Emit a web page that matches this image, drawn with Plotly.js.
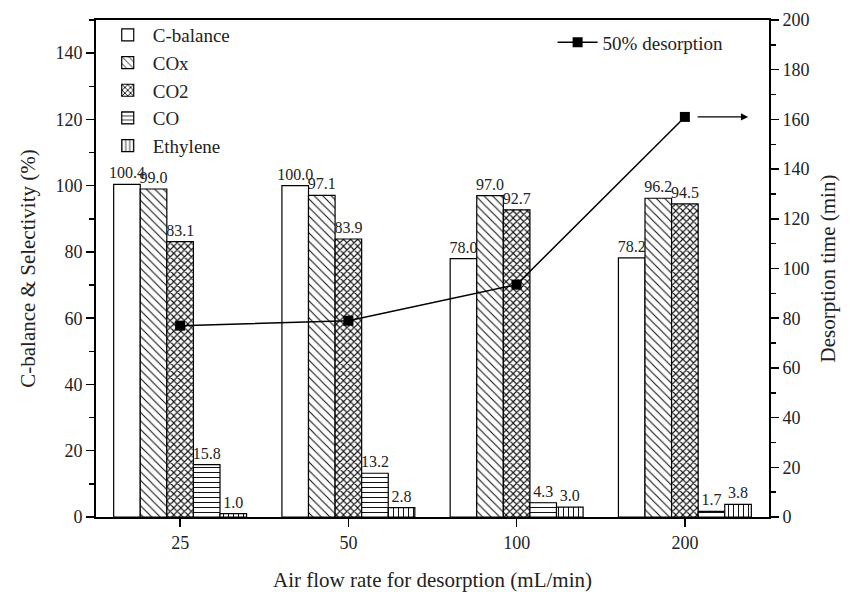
<!DOCTYPE html>
<html>
<head>
<meta charset="utf-8">
<script src="https://cdn.plot.ly/plotly-3.0.1.min.js"></script>
<style>
  html, body { margin: 0; padding: 0; background: #fff; }
  #chart { width: 850px; height: 592px; }
</style>
</head>
<body>
<div id="chart"></div>
<script>
// air flow rates (mL/min)
const flowRates = ['25', '50', '100', '200'];

// left axis, %
const cBalance = [100.4, 100.0, 78.0, 78.2];
const cox = [99.0, 97.1, 97.0, 96.2];
const co2 = [83.1, 83.9, 92.7, 94.5];
const co = [15.8, 13.2, 4.3, 1.7];
const ethylene = [1.0, 2.8, 3.0, 3.8];

// right axis, min
const desorption50 = [77, 79, 93.5, 161];

const serif = '"Liberation Serif", "Times New Roman", Times, serif';

function barTrace(name, values, shape, size, solidity) {
    return {
        type: 'bar',
        name: name,
        x: flowRates,
        y: values,
        marker: {
            color: '#fff',
            line: { color: '#000', width: 1.2 },
            pattern: shape ? { shape: shape, fgcolor: '#111', bgcolor: '#fff', size: size, solidity: solidity } : undefined
        },
        texttemplate: '%{y:.1f}',
        textposition: 'outside',
        constraintext: 'none',
        cliponaxis: false,
        textfont: { family: serif, size: 16, color: '#222' },
        legend: 'legend'
    };
}

const data = [
    barTrace('C-balance', cBalance, '', 6, 0),
    barTrace('COx', cox, '\\', 6, 0.18),
    barTrace('CO2', co2, 'x', 5, 0.4),
    barTrace('CO', co, '-', 5, 0.2),
    barTrace('Ethylene', ethylene, '|', 5, 0.2),
    {
        type: 'scatter',
        mode: 'lines+markers',
        name: '50% desorption',
        x: flowRates,
        y: desorption50,
        yaxis: 'y2',
        line: { color: '#000', width: 1.5 },
        marker: { symbol: 'square', size: 10, color: '#000' },
        cliponaxis: false,
        legend: 'legend2'
    }
];

const layout = {
    width: 850,
    height: 592,
    margin: { l: 96, r: 81, t: 20, b: 75, pad: 0 },
    paper_bgcolor: '#fff',
    plot_bgcolor: '#fff',
    font: { family: serif, size: 18, color: '#222' },
    barmode: 'group',
    bargap: 0.21,
    bargroupgap: 0,
    xaxis: {
        type: 'category',
        range: [-0.5, 3.5],
        showline: true, linecolor: '#000', linewidth: 2, mirror: true,
        ticks: 'outside', ticklen: 8, tickwidth: 1.5, tickcolor: '#000',
        showgrid: false, zeroline: false,
        tickfont: { family: serif, size: 18, color: '#222' },
        title: { text: 'Air flow rate for desorption (mL/min)', font: { family: serif, size: 21, color: '#222' }, standoff: 22 }
    },
    yaxis: {
        range: [0, 150],
        dtick: 20,
        showline: true, linecolor: '#000', linewidth: 2,
        ticks: 'outside', ticklen: 8, tickwidth: 1.5, tickcolor: '#000',
        minor: { dtick: 10, ticks: 'outside', ticklen: 5, tickwidth: 1.5, tickcolor: '#000' },
        showgrid: false, zeroline: false,
        tickfont: { family: serif, size: 18, color: '#222' },
        title: { text: 'C-balance &amp; Selectivity (%)', font: { family: serif, size: 21, color: '#222' }, standoff: 14 }
    },
    yaxis2: {
        overlaying: 'y',
        side: 'right',
        range: [0, 200],
        dtick: 20,
        showline: true, linecolor: '#000', linewidth: 2,
        ticks: 'outside', ticklen: 8, tickwidth: 1.5, tickcolor: '#000',
        minor: { dtick: 10, ticks: 'outside', ticklen: 5, tickwidth: 1.5, tickcolor: '#000' },
        showgrid: false, zeroline: false,
        tickfont: { family: serif, size: 18, color: '#222' },
        title: { text: 'Desorption time (min)', font: { family: serif, size: 21, color: '#222' }, standoff: 12 }
    },
    showlegend: true,
    legend: {
        x: 0.01, y: 1.008, xanchor: 'left', yanchor: 'top',
        bgcolor: 'rgba(255,255,255,0)',
        font: { family: serif, size: 19, color: '#222' },
        tracegroupgap: 0,
        itemwidth: 40
    },
    legend2: {
        x: 0.94, y: 0.955, xanchor: 'right', yanchor: 'middle',
        bgcolor: 'rgba(255,255,255,0)',
        font: { family: serif, size: 19, color: '#222' },
        itemwidth: 40
    },
    annotations: [{
        xref: 'paper', yref: 'y2',
        x: 0.969, y: desorption50[3],
        ax: -52, ay: 0,
        text: '',
        showarrow: true,
        arrowhead: 2, arrowsize: 1.2, arrowwidth: 1.2, arrowcolor: '#000'
    }]
};

Plotly.newPlot('chart', data, layout, { displayModeBar: false, staticPlot: true });
</script>
</body>
</html>
